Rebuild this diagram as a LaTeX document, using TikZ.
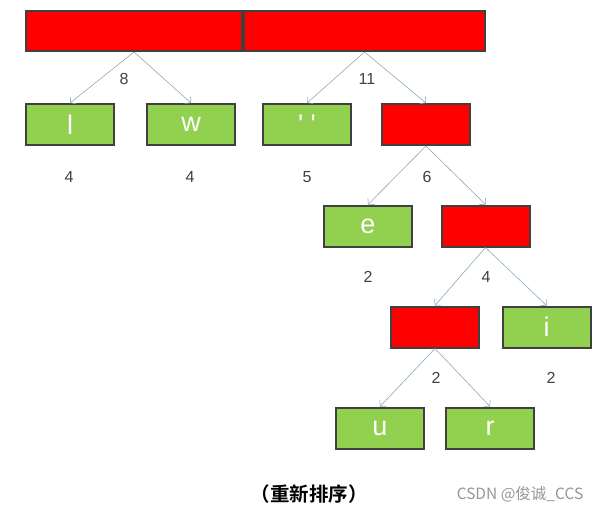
\documentclass[tikz,border=0pt]{standalone}
\usepackage{fontspec}
\setmainfont{Liberation Sans}
\newfontfamily\cjkfont{Noto Sans CJK SC}
\newfontfamily\cjkbold{Noto Sans CJK SC Bold}
\usepackage{tikz}
\usetikzlibrary{arrows.meta, positioning}
\definecolor{leafgreen}{RGB}{146,208,80}
\definecolor{innerred}{RGB}{255,0,0}
\definecolor{boxedge}{RGB}{64,64,64}
\definecolor{edgeblue}{RGB}{143,168,186}
\definecolor{labelgray}{RGB}{64,64,64}
\definecolor{markgray}{RGB}{150,150,150}
\tikzset{
  basebox/.style={rectangle,draw=boxedge,line width=2pt,inner sep=0pt,
                  minimum width=88pt,minimum height=41pt,text=white,
                  font=\fontsize{27}{28}\selectfont},
  leafnode/.style={basebox,fill=leafgreen},
  sumnode/.style={basebox,fill=innerred},
  rootnode/.style={basebox,fill=innerred,minimum height=40pt},
  weightlabel/.style={text=labelgray,font=\fontsize{16}{18}\selectfont},
  arr/.style={-{Straight Barb[length=4pt,width=9pt]},line width=0.6pt,color=edgeblue}
}
\begin{document}
\begin{tikzpicture}[x=1pt,y=-1pt]
  \useasboundingbox (0,0) rectangle (602,512);

  %% Top row
  \node[rootnode,minimum width=216pt] (rootL) at (134,31) {};
  \node[rootnode,minimum width=241pt] (rootR) at (364.5,31) {};

  %% Second row
  \node[leafnode] (l)   at (70,124.5)  {l};
  \node[leafnode] (w)   at (191,124.5) {w};
  \node[leafnode] (sp)  at (307,124.5) {\textquotesingle\ \textquotesingle};
  \node[sumnode]  (s6)  at (426,124.5) {};

  %% Third row
  \node[leafnode] (e)   at (368,226)   {e};
  \node[sumnode]  (s4)  at (485.5,226) {};

  %% Fourth row
  \node[sumnode]  (s2)  at (435,327)   {};
  \node[leafnode] (i)   at (546.5,327) {i};

  %% Fifth row
  \node[leafnode] (u)   at (380,428)   {u};
  \node[leafnode] (r)   at (490,428)   {r};

  %% Edges
  \draw[arr] (rootL.south) -- (l.north);
  \draw[arr] (rootL.south) -- (w.north);
  \draw[arr] (rootR.south) -- (sp.north);
  \draw[arr] (rootR.south) -- (s6.north);
  \draw[arr] (s6.south) -- (e.north);
  \draw[arr] (s6.south) -- (s4.north);
  \draw[arr] (s4.south) -- (s2.north);
  \draw[arr] (s4.south) -- (i.north);
  \draw[arr] (s2.south) -- (u.north);
  \draw[arr] (s2.south) -- (r.north);

  %% Weights
  \node[weightlabel] (wt8)  at (124,79)  {8};
  \node[weightlabel] (wt11) at (367,79)  {11};
  \node[weightlabel] (wtl)  at (69,177)  {4};
  \node[weightlabel] (wtw)  at (190,177) {4};
  \node[weightlabel] (wtsp) at (307,177) {5};
  \node[weightlabel] (wt6)  at (427,177) {6};
  \node[weightlabel] (wte)  at (368,277) {2};
  \node[weightlabel] (wt4)  at (486,277) {4};
  \node[weightlabel] (wt2)  at (436,378) {2};
  \node[weightlabel] (wti)  at (551,378) {2};

  %% Caption
  \node[font=\cjkbold\fontsize{19.5}{21}\selectfont] (caption) at (309,494) {（重新排序）};
  \node[text=markgray,font=\cjkfont\fontsize{15.5}{17}\selectfont] (mark) at (520,494) {CSDN @俊诚\_CCS};
\end{tikzpicture}
\end{document}
